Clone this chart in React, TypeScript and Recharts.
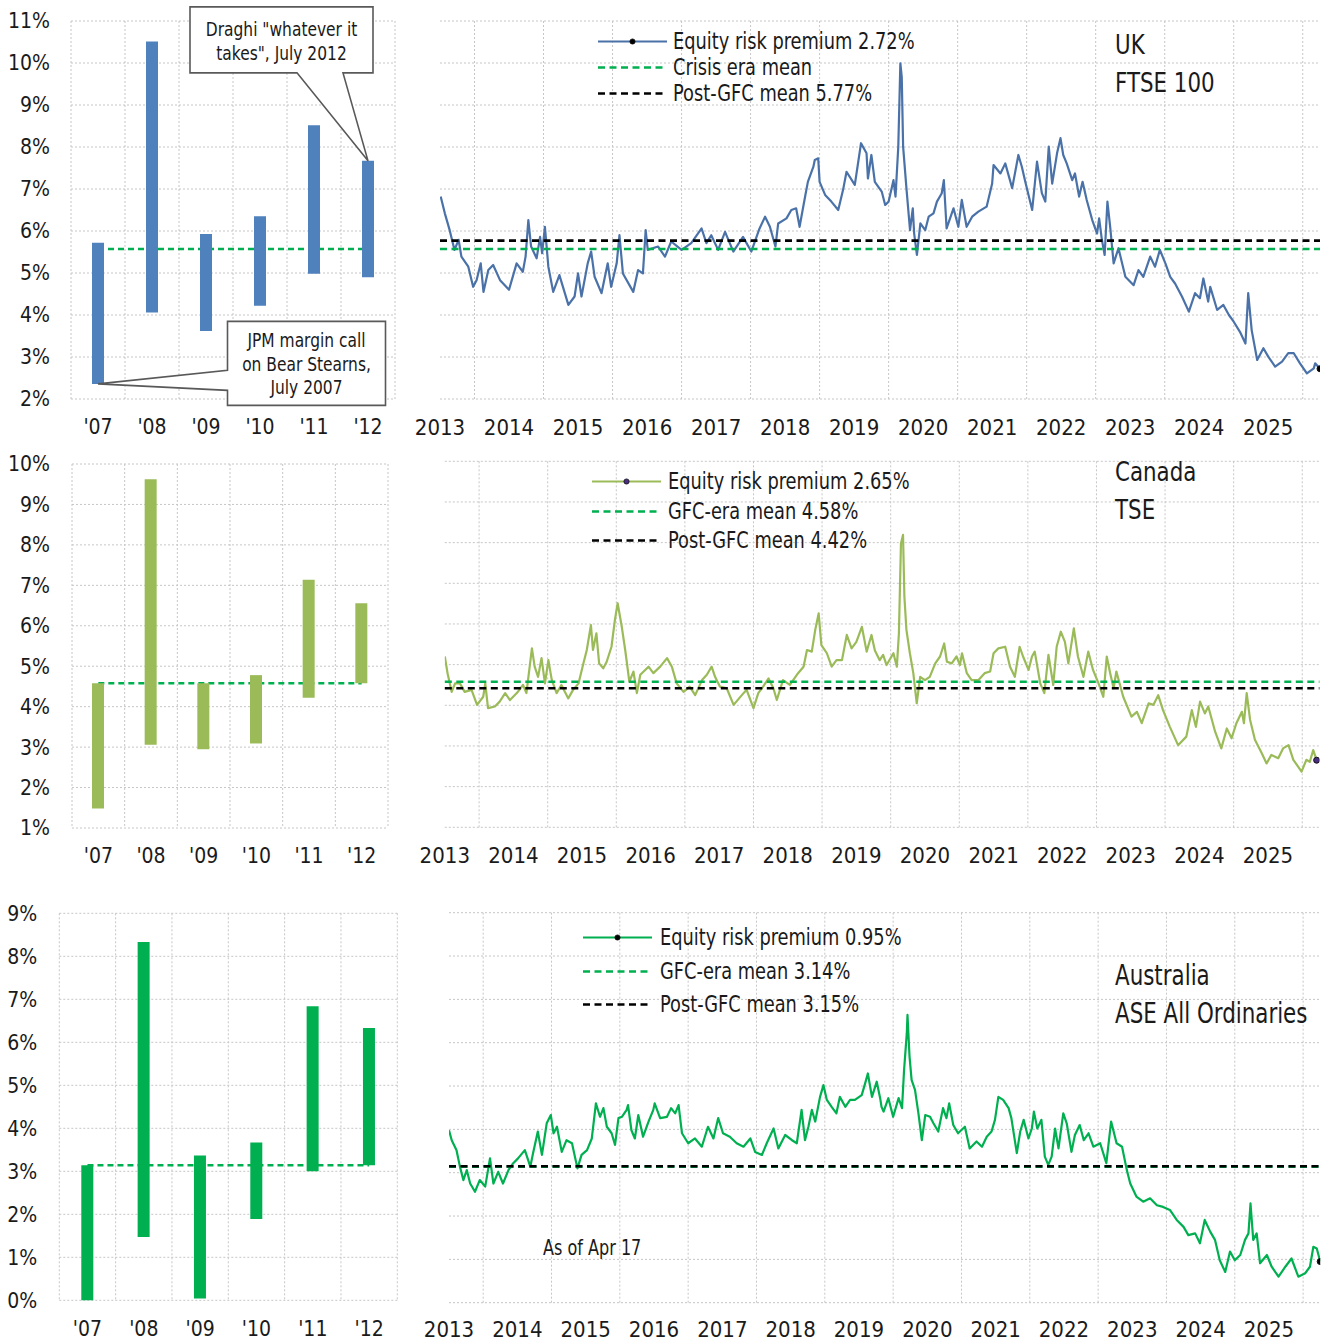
import React from 'react';
import {
  ComposedChart,
  LineChart,
  Bar,
  Line,
  XAxis,
  YAxis,
  CartesianGrid,
  ReferenceLine,
  ReferenceDot,
} from 'recharts';

// ---------------- DATA ----------------
const barCategories = ["'07", "'08", "'09", "'10", "'11", "'12"];

const ukBarLow = [2.36, 4.06, 3.62, 4.22, 4.98, 4.9];
const ukBarHigh = [5.72, 10.51, 5.93, 6.35, 8.52, 7.67];
const ukCrisisMean = 5.57;
const ukPostMean = 5.77;
const ukLatest = 2.72;

const caBarLow = [1.48, 3.06, 2.95, 3.09, 4.22, 4.58];
const caBarHigh = [4.58, 9.62, 4.58, 4.78, 7.14, 6.56];
const caCrisisMean = 4.58;
const caPostMean = 4.42;
const caLatest = 2.65;

const auBarLow = [0, 1.47, 0.04, 1.89, 3.0, 3.14];
const auBarHigh = [3.14, 8.33, 3.37, 3.67, 6.84, 6.33];
const auCrisisMean = 3.14;
const auPostMean = 3.15;
const auLatest = 0.95;

const ukTicks = [2, 3, 4, 5, 6, 7, 8, 9, 10, 11];
const caTicks = [1, 2, 3, 4, 5, 6, 7, 8, 9, 10];
const auTicks = [0, 1, 2, 3, 4, 5, 6, 7, 8, 9];

const yearTicks = [2013, 2014, 2015, 2016, 2017, 2018, 2019, 2020, 2021, 2022, 2023, 2024, 2025];
const gridYears = [2013.5, 2014.5, 2015.5, 2016.5, 2017.5, 2018.5, 2019.5, 2020.5, 2021.5, 2022.5, 2023.5, 2024.5, 2025.5];
const timeDomain = [2013, 2025.75];

const ukDates = [
  2013.01, 2013.07, 2013.14, 2013.21, 2013.27, 2013.31, 2013.41, 2013.48, 2013.53, 2013.59, 2013.63, 2013.7, 2013.77, 2013.87,
  2014.0, 2014.11, 2014.2, 2014.24, 2014.28, 2014.32, 2014.4, 2014.45, 2014.48, 2014.52, 2014.57, 2014.64, 2014.73, 2014.86, 2014.95,
  2015.0, 2015.05, 2015.14, 2015.19, 2015.24, 2015.34, 2015.43, 2015.48, 2015.56, 2015.6, 2015.65, 2015.8, 2015.87, 2015.94, 2015.98,
  2016.01, 2016.16, 2016.26, 2016.35, 2016.5, 2016.64, 2016.79, 2016.86, 2016.93,
  2017.03, 2017.13, 2017.25, 2017.39, 2017.51, 2017.63, 2017.71, 2017.78, 2017.86, 2017.9,
  2018.02, 2018.09, 2018.16, 2018.21, 2018.29, 2018.33, 2018.41, 2018.43, 2018.48, 2018.5, 2018.58, 2018.67, 2018.77, 2018.84, 2018.89,
  2019.01, 2019.1, 2019.18, 2019.2, 2019.25, 2019.3, 2019.4, 2019.45, 2019.5, 2019.57, 2019.6, 2019.64, 2019.67, 2019.69, 2019.71, 2019.76, 2019.81, 2019.85, 2019.87, 2019.91, 2019.96,
  2020.03, 2020.08, 2020.15, 2020.2, 2020.27, 2020.3, 2020.34, 2020.44, 2020.51, 2020.56, 2020.63, 2020.71, 2020.8, 2020.92,
  2021.0, 2021.02, 2021.12, 2021.19, 2021.29, 2021.38, 2021.43, 2021.48, 2021.58, 2021.65, 2021.72, 2021.77, 2021.82, 2021.87, 2021.94, 2021.99,
  2022.03, 2022.08, 2022.16, 2022.2, 2022.26, 2022.31, 2022.37, 2022.45, 2022.52, 2022.55, 2022.59, 2022.63, 2022.67, 2022.71, 2022.76, 2022.83, 2022.93,
  2023.05, 2023.12, 2023.19, 2023.29, 2023.36, 2023.43, 2023.51, 2023.58, 2023.65, 2023.75, 2023.85, 2023.94,
  2024.01, 2024.06, 2024.13, 2024.16, 2024.26, 2024.35, 2024.43, 2024.5, 2024.59, 2024.67, 2024.71, 2024.76, 2024.84, 2024.93,
  2025.0, 2025.1, 2025.2, 2025.29, 2025.37, 2025.46, 2025.56, 2025.66, 2025.68, 2025.75,
];
const ukErp = [
  6.82, 6.42, 6.02, 5.55, 5.79, 5.39, 5.15, 4.67, 4.83, 5.23, 4.55, 5.07, 5.19, 4.83,
  4.6, 5.23, 5.03, 5.39, 6.26, 5.63, 5.35, 5.86, 5.47, 6.1, 5.15, 4.55, 4.95, 4.24, 4.44,
  4.99, 4.44, 5.23, 5.51, 4.91, 4.52, 5.23, 4.67, 5.23, 5.9, 4.99, 4.55, 5.07, 4.99, 6.02,
  5.55, 5.63, 5.39, 5.75, 5.55, 5.71, 6.06, 5.71, 5.9,
  5.55, 5.98, 5.51, 5.86, 5.51, 6.06, 6.34, 6.1, 5.63, 6.18,
  6.3, 6.5, 6.54, 6.1, 6.82, 7.17, 7.53, 7.69, 7.73, 7.17, 6.86, 6.7, 6.5, 6.98, 7.41,
  7.1, 8.09, 7.85, 7.25, 7.81, 7.17, 6.94, 6.62, 6.7, 7.21, 6.82, 8.01, 9.99, 9.67, 8.01, 6.98, 6.02, 6.54, 5.94, 5.43, 6.18,
  6.02, 6.34, 6.42, 6.7, 6.9, 7.21, 6.06, 6.54, 6.1, 6.74, 6.1, 6.34, 6.46, 6.58,
  7.13, 7.57, 7.37, 7.61, 7.02, 7.81, 7.53, 7.17, 6.5, 7.65, 6.9, 6.7, 8.01, 7.13, 7.85, 8.21,
  7.81, 7.61, 7.21, 7.37, 6.82, 7.17, 6.74, 6.26, 5.94, 6.3, 5.79, 5.43, 6.7, 6.1, 5.23, 5.59, 4.91,
  4.71, 5.07, 4.91, 5.39, 5.15, 5.55, 5.23, 4.91, 4.75, 4.44, 4.08, 4.52,
  4.4, 4.87, 4.32, 4.67, 4.12, 4.24, 4.0, 3.84, 3.6, 3.32, 4.52, 3.64, 2.93, 3.21,
  3.01, 2.77, 2.89, 3.09, 3.09, 2.85, 2.61, 2.73, 2.85, 2.72,
];

const caDates = [
  2013.0, 2013.04, 2013.1, 2013.15, 2013.22, 2013.29, 2013.39, 2013.47, 2013.56, 2013.59, 2013.63, 2013.73, 2013.8, 2013.88, 2013.95,
  2014.05, 2014.14, 2014.19, 2014.27, 2014.31, 2014.36, 2014.41, 2014.46, 2014.51, 2014.56, 2014.63, 2014.7, 2014.8, 2014.87, 2014.95,
  2015.02, 2015.07, 2015.13, 2015.16, 2015.21, 2015.25, 2015.31, 2015.36, 2015.43, 2015.48, 2015.52, 2015.58, 2015.63, 2015.69, 2015.75, 2015.8, 2015.85, 2015.97,
  2016.04, 2016.14, 2016.24, 2016.31, 2016.38, 2016.48, 2016.57, 2016.65, 2016.75, 2016.82, 2016.89, 2016.94,
  2017.01, 2017.11, 2017.21, 2017.33, 2017.4, 2017.5, 2017.57, 2017.64, 2017.72, 2017.79, 2017.84, 2017.93,
  2018.03, 2018.15, 2018.23, 2018.28, 2018.35, 2018.4, 2018.45, 2018.49, 2018.57, 2018.64, 2018.71, 2018.79, 2018.86, 2018.93,
  2019.0, 2019.08, 2019.15, 2019.22, 2019.27, 2019.34, 2019.39, 2019.44, 2019.54, 2019.59, 2019.62, 2019.65, 2019.68, 2019.7, 2019.73, 2019.78, 2019.83, 2019.88, 2019.93,
  2020.0, 2020.07, 2020.15, 2020.22, 2020.28, 2020.32, 2020.39, 2020.46, 2020.51, 2020.54, 2020.61, 2020.68, 2020.78, 2020.87, 2020.95,
  2021.0, 2021.07, 2021.17, 2021.24, 2021.31, 2021.38, 2021.43, 2021.51, 2021.56, 2021.6, 2021.68, 2021.74, 2021.8, 2021.87, 2021.92, 2021.98,
  2022.04, 2022.09, 2022.17, 2022.23, 2022.31, 2022.38, 2022.45, 2022.53, 2022.6, 2022.65, 2022.7, 2022.75, 2022.79, 2022.89,
  2023.01, 2023.09, 2023.16, 2023.26, 2023.33, 2023.4, 2023.47, 2023.57, 2023.69, 2023.81, 2023.89, 2023.95,
  2024.01, 2024.08, 2024.13, 2024.23, 2024.32, 2024.4, 2024.47, 2024.54, 2024.62, 2024.65, 2024.69, 2024.74, 2024.81, 2024.91, 2024.98,
  2025.05, 2025.15, 2025.22, 2025.3, 2025.37, 2025.49, 2025.56, 2025.61, 2025.66, 2025.71,
];
const caErp = [
  5.2, 4.79, 4.33, 4.54, 4.54, 4.33, 4.38, 4.01, 4.21, 4.54, 3.93, 3.97, 4.09, 4.3, 4.13,
  4.3, 4.5, 4.3, 5.4, 4.95, 4.7, 5.16, 4.54, 5.11, 4.62, 4.3, 4.5, 4.17, 4.38, 4.54,
  5.03, 5.36, 5.97, 5.36, 5.77, 5.03, 4.91, 5.07, 5.44, 6.1, 6.51, 5.93, 5.36, 4.58, 4.83, 4.3, 4.75, 4.95,
  4.79, 4.95, 5.16, 4.95, 4.54, 4.33, 4.46, 4.25, 4.62, 4.75, 4.95, 4.7,
  4.46, 4.42, 4.01, 4.25, 4.38, 3.93, 4.3, 4.46, 4.66, 4.42, 4.13, 4.62,
  4.5, 4.79, 4.95, 5.36, 5.32, 5.85, 6.26, 5.48, 5.28, 4.95, 5.11, 5.11, 5.73, 5.4,
  5.56, 5.93, 5.32, 5.73, 5.35, 5.11, 5.24, 4.99, 5.28, 4.95, 5.77, 7.98, 8.19, 6.67, 5.85, 5.28, 4.79, 4.05, 4.7,
  4.62, 4.7, 5.03, 5.2, 5.52, 5.07, 5.03, 5.2, 4.99, 5.28, 4.79, 4.62, 4.62, 4.79, 4.83,
  5.28, 5.4, 5.44, 4.95, 4.7, 5.44, 5.2, 4.87, 5.2, 5.32, 4.54, 4.3, 5.24, 4.5, 5.44, 5.81,
  5.56, 5.03, 5.89, 5.2, 4.7, 5.32, 4.87, 4.54, 4.21, 5.2, 4.79, 4.42, 4.83, 4.21,
  3.72, 3.84, 3.56, 4.05, 4.01, 4.25, 3.88, 3.47, 3.02, 3.23, 3.88, 3.47,
  4.09, 3.8, 3.97, 3.35, 2.94, 3.43, 3.19, 3.56, 3.84, 3.56, 4.3, 3.64, 3.15, 2.82, 2.57,
  2.78, 2.7, 2.94, 3.02, 2.66, 2.37, 2.66, 2.61, 2.9, 2.65,
];

const auDates = [
  2013.0, 2013.04, 2013.11, 2013.16, 2013.21, 2013.26, 2013.31, 2013.38, 2013.45, 2013.53, 2013.6, 2013.65, 2013.72, 2013.79, 2013.87, 2013.94,
  2014.01, 2014.11, 2014.19, 2014.23, 2014.3, 2014.36, 2014.43, 2014.49, 2014.53, 2014.58, 2014.65, 2014.72, 2014.8, 2014.88, 2014.94,
  2015.02, 2015.09, 2015.15, 2015.21, 2015.26, 2015.31, 2015.38, 2015.43, 2015.48, 2015.53, 2015.6, 2015.62, 2015.67, 2015.72, 2015.77, 2015.84, 2015.92, 2015.99,
  2016.01, 2016.09, 2016.19, 2016.25, 2016.31, 2016.36, 2016.41, 2016.5, 2016.6, 2016.7, 2016.79, 2016.87, 2016.94,
  2017.01, 2017.11, 2017.21, 2017.31, 2017.41, 2017.48, 2017.58, 2017.65, 2017.75, 2017.82, 2017.92,
  2018.02, 2018.09, 2018.16, 2018.21, 2018.26, 2018.31, 2018.36, 2018.43, 2018.48, 2018.53, 2018.6, 2018.67, 2018.72, 2018.8, 2018.87, 2018.94,
  2019.04, 2019.09, 2019.13, 2019.19, 2019.26, 2019.31, 2019.33, 2019.36, 2019.43, 2019.5, 2019.58, 2019.63, 2019.66, 2019.7, 2019.71, 2019.74, 2019.77, 2019.82, 2019.87, 2019.92, 2019.97,
  2020.04, 2020.09, 2020.16, 2020.23, 2020.28, 2020.32, 2020.38, 2020.45, 2020.55, 2020.62, 2020.72, 2020.8, 2020.87, 2020.94, 2020.99,
  2021.04, 2021.11, 2021.19, 2021.23, 2021.31, 2021.36, 2021.41, 2021.48, 2021.53, 2021.56, 2021.61, 2021.67, 2021.72, 2021.77, 2021.82, 2021.87, 2021.92, 2021.99,
  2022.04, 2022.11, 2022.16, 2022.23, 2022.29, 2022.36, 2022.43, 2022.53, 2022.62, 2022.69, 2022.77, 2022.85, 2022.92, 2022.97,
  2023.06, 2023.16, 2023.26, 2023.36, 2023.45, 2023.55, 2023.65, 2023.75, 2023.82, 2023.92, 2023.99,
  2024.06, 2024.14, 2024.21, 2024.28, 2024.36, 2024.43, 2024.5, 2024.58, 2024.65, 2024.7, 2024.73, 2024.77, 2024.82, 2024.87, 2024.97,
  2025.04, 2025.14, 2025.24, 2025.33, 2025.43, 2025.53, 2025.6, 2025.65, 2025.7, 2025.75,
];
const auErp = [
  3.98, 3.75, 3.52, 3.14, 2.83, 3.06, 2.75, 2.56, 2.83, 2.68, 3.33, 2.75, 3.02, 2.75, 3.06, 3.22,
  3.33, 3.52, 3.14, 3.45, 3.95, 3.41, 4.14, 4.33, 3.91, 4.06, 3.48, 3.75, 3.68, 3.1, 3.41,
  3.52, 3.79, 4.6, 4.29, 4.49, 4.06, 3.91, 3.64, 4.26, 4.29, 4.45, 4.56, 3.98, 3.79, 4.33, 3.83, 4.18, 4.45,
  4.6, 4.26, 4.29, 4.49, 4.37, 4.56, 3.91, 3.68, 3.79, 3.6, 4.06, 3.79, 4.26,
  3.91, 3.83, 3.68, 3.6, 3.79, 3.48, 3.41, 3.68, 4.02, 3.56, 3.87,
  3.75, 3.68, 4.45, 3.75, 4.06, 4.45, 4.18, 4.75, 5.02, 4.68, 4.52, 4.37, 4.75, 4.52, 4.68, 4.68,
  4.79, 5.06, 5.29, 4.75, 5.1, 4.72, 4.52, 4.41, 4.72, 4.29, 4.72, 4.49, 5.37, 6.22, 6.64, 5.68, 5.14, 4.91, 4.37, 3.75, 4.33,
  4.29, 4.14, 3.95, 4.49, 4.26, 4.6, 4.1, 3.91, 4.06, 3.56, 3.72, 3.6, 3.83, 3.95, 4.22,
  4.75, 4.68, 4.49, 4.26, 3.45, 3.95, 4.22, 3.79, 4.02, 4.41, 4.02, 4.22, 3.37, 3.18, 3.37, 4.02, 3.56, 4.37,
  4.14, 3.48, 3.87, 4.1, 3.75, 3.91, 3.6, 3.68, 3.22, 4.18, 3.68, 3.6, 3.06, 2.75,
  2.45, 2.33, 2.41, 2.25, 2.21, 2.14, 1.91, 1.75, 1.56, 1.6, 1.37,
  1.91, 1.64, 1.45, 0.98, 0.71, 1.18, 0.98, 1.1, 1.45, 1.6, 2.29, 1.45, 1.6, 0.91, 1.1,
  0.83, 0.6, 0.83, 1.02, 0.6, 0.68, 0.83, 1.29, 1.25, 0.95,
];

// ---------------- STYLE ----------------
const FONT_TEXT = '"DejaVu Sans Condensed", "DejaVu Sans", sans-serif';
const FONT_NUM = '"DejaVu Sans Condensed", "DejaVu Sans", sans-serif';
const NARROW = 0.86; // horizontal squeeze to emulate the narrow label face
const TEXT = '#1a1a1a';
const GRID = '#c6c6c6';
const MEAN_GREEN = '#00b050';
const UK_BLUE_BAR = '#4f81bd';
const UK_BLUE_LINE = '#4a72a8';
const CA_GREEN = '#9bbb59';
const AU_GREEN = '#00b050';

const makeBarData = (low: number[], high: number[], mean: number) =>
  barCategories.map((c, i) => ({ cat: c, range: [low[i], high[i]], mean }));

const makeLineData = (dates: number[], vals: number[]) => dates.map((t, i) => ({ t, v: vals[i] }));

const ukBarData = makeBarData(ukBarLow, ukBarHigh, ukCrisisMean);
const caBarData = makeBarData(caBarLow, caBarHigh, caCrisisMean);
const auBarData = makeBarData(auBarLow, auBarHigh, auCrisisMean);
const ukLineData = makeLineData(ukDates, ukErp);
const caLineData = makeLineData(caDates, caErp);
const auLineData = makeLineData(auDates, auErp);

// ---------------- CALLOUTS ----------------
const calloutText = { fontFamily: FONT_TEXT, fontSize: 20, fill: TEXT } as const;

function SqueezedLine({ x, y, children }: { x: number; y: number; children: React.ReactNode }) {
  return (
    <g transform={`translate(${x},${y}) scale(${NARROW},1)`}>
      <text x={0} y={0} textAnchor="middle" dominantBaseline="central" {...calloutText}>
        {children}
      </text>
    </g>
  );
}

function DraghiCallout(props: any) {
  const { cx, cy } = props;
  if (cx == null || cy == null) return <g />;
  const l = cx - 178, r = cx + 5, t = cy - 154, b = cy - 88;
  const d = `M${l},${t} H${r} V${b} H${cx - 25} L${cx},${cy} L${cx - 71},${b} H${l} Z`;
  const mx = (l + r) / 2;
  return (
    <g>
      <path d={d} fill="#fff" stroke="#595959" strokeWidth={1.6} />
      <SqueezedLine x={mx} y={cy - 132}>Draghi "whatever it</SqueezedLine>
      <SqueezedLine x={mx} y={cy - 108}>takes", July 2012</SqueezedLine>
    </g>
  );
}

function BearCallout(props: any) {
  const { cx, cy } = props;
  if (cx == null || cy == null) return <g />;
  const l = cx + 129.5, r = cx + 287.5, t = cy - 62.5, b = cy + 21.5;
  const d = `M${l},${t} H${r} V${b} H${l} V${cy + 6.5} L${cx},${cy} L${l},${cy - 13.5} Z`;
  const mx = (l + r) / 2;
  return (
    <g>
      <path d={d} fill="#fff" stroke="#595959" strokeWidth={1.6} />
      <SqueezedLine x={mx} y={cy - 44}>JPM margin call</SqueezedLine>
      <SqueezedLine x={mx} y={cy - 20}>on Bear Stearns,</SqueezedLine>
      <SqueezedLine x={mx} y={cy + 3}>July 2007</SqueezedLine>
    </g>
  );
}

// ---------------- PANELS ----------------
type BarPanelProps = {
  left: number; top: number; width: number; height: number;
  plotTop: number; plotBottom: number; plotLeft: number; plotRight: number;
  yTickMargin: number; xTickMargin: number;
  data: any[]; color: string; ticks: number[]; children?: React.ReactNode;
};

function BarPanel(p: BarPanelProps) {
  const n = barCategories.length;
  return (
    <div style={{ position: 'absolute', left: p.left, top: p.top }}>
      <ComposedChart
        width={p.width}
        height={p.height}
        data={p.data}
        margin={{ top: p.plotTop, right: p.width - p.plotRight, bottom: 0, left: 0 }}
      >
        <CartesianGrid
          stroke={GRID}
          strokeDasharray="2 2"
          verticalCoordinatesGenerator={({ offset }: any) =>
            Array.from({ length: n + 1 }, (_, i) => offset.left + (i * offset.width) / n)
          }
        />
        <XAxis
          dataKey="cat"
          interval={0}
          axisLine={false}
          tickLine={false}
          tickSize={0}
          tickMargin={p.xTickMargin}
          height={p.height - p.plotBottom}
          tick={{ fontSize: 21, fill: TEXT, fontFamily: FONT_NUM }}
        />
        <YAxis
          type="number"
          domain={[p.ticks[0], p.ticks[p.ticks.length - 1]]}
          ticks={p.ticks}
          interval={0}
          width={p.plotLeft}
          axisLine={false}
          tickLine={false}
          tickSize={0}
          tickMargin={p.yTickMargin}
          tickFormatter={(v: number) => `${v}%`}
          tick={{ fontSize: 21, fill: TEXT, fontFamily: FONT_NUM }}
        />
        <Line
          dataKey="mean"
          stroke={MEAN_GREEN}
          strokeWidth={2.5}
          strokeDasharray="6 4"
          dot={false}
          activeDot={false}
          isAnimationActive={false}
          zIndex={250}
        />
        <Bar dataKey="range" fill={p.color} barSize={12} isAnimationActive={false} />
        {p.children}
      </ComposedChart>
    </div>
  );
}

type LinePanelProps = {
  left: number; top: number; width: number; height: number;
  plotTop: number; plotBottom: number; plotLeft: number; plotRight: number;
  xTickMargin: number; data: any[]; color: string; ticks: number[];
  crisisMean: number; postMean: number; dotFill: string;
};

function LinePanel(p: LinePanelProps) {
  const last = p.data.length - 1;
  const span = timeDomain[1] - timeDomain[0];
  return (
    <div style={{ position: 'absolute', left: p.left, top: p.top }}>
      <LineChart
        width={p.width}
        height={p.height}
        data={p.data}
        margin={{ top: p.plotTop, right: p.width - p.plotRight, bottom: 0, left: p.plotLeft }}
      >
        <CartesianGrid
          stroke={GRID}
          strokeDasharray="2 2"
          verticalCoordinatesGenerator={({ offset }: any) =>
            gridYears.map((y) => offset.left + ((y - timeDomain[0]) / span) * offset.width)
          }
        />
        <XAxis
          dataKey="t"
          type="number"
          domain={timeDomain}
          ticks={yearTicks}
          interval={0}
          allowDataOverflow
          axisLine={false}
          tickLine={false}
          tickSize={0}
          tickMargin={p.xTickMargin}
          height={p.height - p.plotBottom}
          tick={{ fontSize: 22, fill: TEXT, fontFamily: FONT_NUM }}
        />
        <YAxis
          hide
          type="number"
          domain={[p.ticks[0], p.ticks[p.ticks.length - 1]]}
          ticks={p.ticks}
          interval={0}
          width={0}
        />
        <Line
          dataKey="v"
          type="linear"
          stroke={p.color}
          strokeWidth={2.2}
          strokeLinejoin="round"
          isAnimationActive={false}
          activeDot={false}
          dot={(d: any) =>
            d.index === last ? (
              <circle key={`d${d.index}`} cx={d.cx} cy={d.cy} r={3} fill={p.dotFill} stroke="#111" strokeWidth={1} />
            ) : (
              <g key={`d${d.index}`} />
            )
          }
        />
        <ReferenceLine y={p.crisisMean} stroke={MEAN_GREEN} strokeWidth={2.6} strokeDasharray="7 4.5" />
        <ReferenceLine y={p.postMean} stroke="#000" strokeWidth={2.6} strokeDasharray="7 4.5" />
      </LineChart>
    </div>
  );
}

// ---------------- LEGEND / LABELS ----------------
type LegendRow = { kind: 'line' | 'dash'; color: string; label: string; dot?: string };

function LegendBlock({ x1, x2, textX, ys, rows }: { x1: number; x2: number; textX: number; ys: number[]; rows: LegendRow[] }) {
  const w = x2 - x1;
  return (
    <>
      {rows.map((r, i) => (
        <div
          key={i}
          style={{
            position: 'absolute',
            left: x1,
            top: ys[i],
            transform: 'translateY(-50%)',
            display: 'flex',
            alignItems: 'center',
            whiteSpace: 'nowrap',
          }}
        >
          <svg width={w} height={12} style={{ display: 'block' }}>
            {r.kind === 'line' ? (
              <>
                <line x1={0} y1={6} x2={w} y2={6} stroke={r.color} strokeWidth={2} />
                <circle cx={w / 2} cy={6} r={2.6} fill={r.dot || '#000'} stroke="#111" strokeWidth={0.8} />
              </>
            ) : (
              <line x1={0} y1={6} x2={w} y2={6} stroke={r.color} strokeWidth={2.6} strokeDasharray="7 4.5" />
            )}
          </svg>
          <span
            style={{
              marginLeft: textX - x2,
              fontFamily: FONT_TEXT,
              fontSize: 23,
              lineHeight: 1,
              color: TEXT,
              display: 'inline-block',
              transform: `scaleX(${NARROW})`,
              transformOrigin: 'left center',
            }}
          >
            {r.label}
          </span>
        </div>
      ))}
    </>
  );
}

function Label({ x, y, text, size = 27, squeeze = NARROW }: { x: number; y: number; text: string; size?: number; squeeze?: number }) {
  return (
    <div
      style={{
        position: 'absolute',
        left: x,
        top: y,
        transform: `translateY(-50%) scaleX(${squeeze})`,
        transformOrigin: 'left center',
        fontFamily: FONT_TEXT,
        fontSize: size,
        lineHeight: 1.15,
        color: TEXT,
        whiteSpace: 'nowrap',
      }}
    >
      {text}
    </div>
  );
}

export default function App() {
  return (
    <div
      style={{
        position: 'absolute',
        left: 0,
        top: 0,
        width: 1332,
        height: 1344,
        background: '#fff',
        overflow: 'hidden',
      }}
    >
      {/* ---------- Row 1: UK ---------- */}
      <BarPanel
        left={0} top={0} width={400} height={440}
        plotTop={21} plotBottom={399} plotLeft={71} plotRight={395}
        yTickMargin={21} xTickMargin={20}
        data={ukBarData} color={UK_BLUE_BAR} ticks={ukTicks}
      >
        <ReferenceDot x={barCategories[5]} y={ukBarHigh[5]} r={0} shape={DraghiCallout} />
        <ReferenceDot x={barCategories[0]} y={ukBarLow[0]} r={0} shape={BearCallout} />
      </BarPanel>
      <LinePanel
        left={400} top={0} width={932} height={440}
        plotTop={21} plotBottom={399} plotLeft={40} plotRight={920}
        xTickMargin={20} data={ukLineData} color={UK_BLUE_LINE} ticks={ukTicks}
        crisisMean={ukCrisisMean} postMean={ukPostMean} dotFill="#000"
      />
      <LegendBlock
        x1={598} x2={667} textX={673} ys={[41, 67, 93]}
        rows={[
          { kind: 'line', color: UK_BLUE_LINE, label: `Equity risk premium ${ukLatest.toFixed(2)}%`, dot: '#000' },
          { kind: 'dash', color: MEAN_GREEN, label: 'Crisis era mean' },
          { kind: 'dash', color: '#000', label: `Post-GFC mean ${ukPostMean.toFixed(2)}%` },
        ]}
      />
      <Label x={1115} y={45} text="UK" squeeze={0.88} />
      <Label x={1115} y={83} text="FTSE 100" squeeze={0.88} />

      {/* ---------- Row 2: Canada ---------- */}
      <BarPanel
        left={0} top={440} width={400} height={440}
        plotTop={24} plotBottom={388} plotLeft={72} plotRight={388}
        yTickMargin={22} xTickMargin={20}
        data={caBarData} color={CA_GREEN} ticks={caTicks}
      />
      <LinePanel
        left={400} top={440} width={932} height={440}
        plotTop={21.3} plotBottom={387.3} plotLeft={44.8} plotRight={919.4}
        xTickMargin={20} data={caLineData} color={CA_GREEN} ticks={caTicks}
        crisisMean={caCrisisMean} postMean={caPostMean} dotFill="#4b2e83"
      />
      <LegendBlock
        x1={592} x2={661} textX={668} ys={[481, 511, 540]}
        rows={[
          { kind: 'line', color: CA_GREEN, label: `Equity risk premium ${caLatest.toFixed(2)}%`, dot: '#4b2e83' },
          { kind: 'dash', color: MEAN_GREEN, label: `GFC-era mean ${caCrisisMean.toFixed(2)}%` },
          { kind: 'dash', color: '#000', label: `Post-GFC mean ${caPostMean.toFixed(2)}%` },
        ]}
      />
      <Label x={1115} y={472} text="Canada" squeeze={0.88} />
      <Label x={1115} y={510} text="TSE" squeeze={0.88} />

      {/* ---------- Row 3: Australia ---------- */}
      <BarPanel
        left={0} top={890} width={400} height={454}
        plotTop={23.3} plotBottom={410.3} plotLeft={59.3} plotRight={397.3}
        yTickMargin={22} xTickMargin={21}
        data={auBarData} color={AU_GREEN} ticks={auTicks}
      />
      <LinePanel
        left={400} top={890} width={932} height={454}
        plotTop={22.7} plotBottom={412.7} plotLeft={49} plotRight={920.2}
        xTickMargin={19} data={auLineData} color={AU_GREEN} ticks={auTicks}
        crisisMean={auCrisisMean} postMean={auPostMean} dotFill="#000"
      />
      <LegendBlock
        x1={583} x2={652} textX={660} ys={[937, 971, 1004]}
        rows={[
          { kind: 'line', color: AU_GREEN, label: `Equity risk premium ${auLatest.toFixed(2)}%`, dot: '#000' },
          { kind: 'dash', color: MEAN_GREEN, label: `GFC-era mean ${auCrisisMean.toFixed(2)}%` },
          { kind: 'dash', color: '#000', label: `Post-GFC mean ${auPostMean.toFixed(2)}%` },
        ]}
      />
      <Label x={1115} y={976} text="Australia" size={28} squeeze={0.85} />
      <Label x={1115} y={1014} text="ASE All Ordinaries" size={28} squeeze={0.85} />
      <Label x={543} y={1248} text="As of Apr 17" size={21} squeeze={0.85} />
    </div>
  );
}
